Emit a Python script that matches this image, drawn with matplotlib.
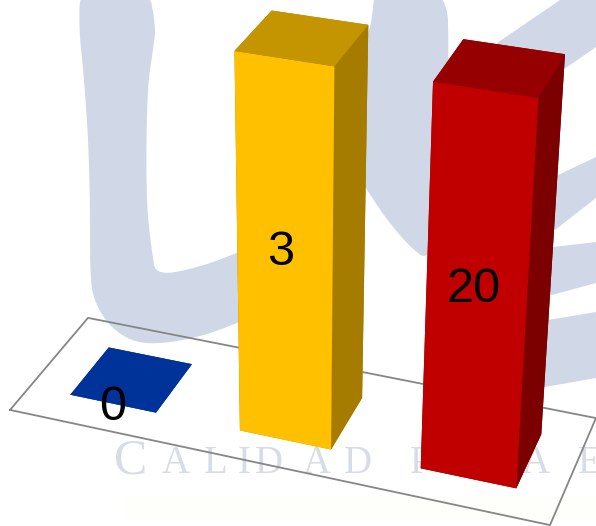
import numpy as np
import matplotlib
matplotlib.use('Agg')
import matplotlib.pyplot as plt
from matplotlib.patches import Polygon, Rectangle

# --- chart data ---
value_labels = ['0', '3', '20']
bar_heights = [0.0, 7.43, 7.43]      # drawn heights in the reference (not proportional to the labels)
bar_x = [0.8115, 4.1332, 7.495]
bar_y = [0.8169, 0.8098, 0.8081]
bar_w = [1.6982, 1.7159, 1.7088]
bar_d = [1.7033, 1.7216, 1.7123]
label_dx = [0.0, -0.07, -0.05]
label_dz = [-0.08, 0.10, 0.06]
front_colors = ['#003399', '#FFC000', '#C00000']
top_colors = ['#003399', '#C49500', '#960000']
side_colors = ['#003399', '#A67C00', '#7C0000']
floor_x, floor_y, box_z = 10.0, 3.3507, 10.0

# --- view ---
ELEV, AZIM, ROLL, ZOOM = 27.8833, -70.2187, -0.0854, float(np.exp(0.7077))
PX_A, PX_B, PX_S = 302.6319, 168.4104, 2218.2699
WIDTH, HEIGHT = 596, 526

fig = plt.figure(figsize=(WIDTH / 100, HEIGHT / 100), dpi=100, facecolor='white')


def chaikin(pts, rounds=3):
    p = np.asarray(pts, float)
    for _ in range(rounds):
        q = np.roll(p, -1, axis=0)
        p = np.column_stack([0.75 * p + 0.25 * q, 0.25 * p + 0.75 * q]).reshape(-1, 2)
    return p


# --- watermark background ---
bg = fig.add_axes([0, 0, 1, 1], zorder=0)
bg.set_xlim(0, WIDTH)
bg.set_ylim(HEIGHT, 0)
bg.axis('off')
WM = '#D0D8E8'
curved = [
    [(80, -15), (79, 30), (83, 67), (88, 133), (90, 200), (90, 280), (95, 303), (110, 327),
     (133, 342), (160, 344), (200, 337), (238, 323), (290, 300), (290, 230), (237, 253),
     (200, 267), (156, 276), (152, 253), (146, 200), (147, 90), (153, 50), (156, 27), (148, -15)],
    [(375, -15), (372, 20), (366, 40), (360, 100), (358, 175), (367, 190), (387, 220), (410, 247),
     (430, 262), (445, 200), (449, 60), (447, -15)],
]
straight = [
    [(497, 43), (560, 0), (596, 0), (596, 47), (560, 72), (520, 80)],
    [(545, 178), (558, 175), (596, 157), (596, 198), (555, 230), (545, 234)],
    [(540, 248), (553, 247), (596, 242), (596, 283), (552, 295), (540, 297)],
    [(535, 321), (548, 320), (596, 312), (596, 378), (545, 387), (535, 388)],
]
bg.add_patch(Rectangle((125, 497), 471, 23, fc='#FEFEFA', ec='none'))
for pts in curved:
    bg.add_patch(Polygon(chaikin(pts), closed=True, fc=WM, ec='none'))
for pts in straight:
    bg.add_patch(Polygon(pts, closed=True, fc=WM, ec='none'))

wm_letters = ['C', 'A', 'L', 'I', 'D', 'A', 'D', 'P', 'A', 'E']
wm_x = [114, 162, 204, 238, 255, 303, 344, 410, 522, 578]
wm_size = [36, 28, 28, 28, 28, 28, 28, 28, 28, 28]
for ch, x, sz in zip(wm_letters, wm_x, wm_size):
    bg.text(x, 473, ch, family='Liberation Serif', fontsize=sz, color='#D8DCE4',
            ha='left', va='baseline')

# --- 3D chart ---
L = PX_A - PX_S * 0.095
W = PX_S * 0.185
B = HEIGHT - PX_B - PX_S * 0.095
ax = fig.add_axes([L / WIDTH, B / HEIGHT, W / WIDTH, W / HEIGHT],
                  projection='3d', zorder=1)
ax.set_proj_type('persp')
ax.patch.set_alpha(0)
ax.computed_zorder = False
ax.view_init(ELEV, AZIM, ROLL)

fx = [0, floor_x, floor_x, 0, 0]
fy = [0, 0, floor_y, floor_y, 0]
floor_line, = ax.plot(fx, fy, [0] * 5, color='#868686', lw=1.3, zorder=1)
floor_line.set_clip_on(False)

for i in range(len(value_labels)):
    # face order used by bar3d: bottom, top, front, back, left, right
    faces = [top_colors[i], top_colors[i], front_colors[i],
             side_colors[i], side_colors[i], side_colors[i]]
    col = ax.bar3d(bar_x[i], bar_y[i], 0, bar_w[i], bar_d[i], bar_heights[i],
                   color=faces, shade=False, linewidth=0, zorder=2 + i)
    col.set_clip_on(False)
    ax.text(bar_x[i] + bar_w[i] / 2 + label_dx[i], bar_y[i],
            bar_heights[i] / 2 + label_dz[i], value_labels[i],
            family='Liberation Sans', fontsize=35, color='black',
            ha='center', va='center', zorder=10)

ax.set_xlim(0, floor_x)
ax.set_ylim(0, floor_y)
ax.set_zlim(0, box_z)
ax.set_box_aspect((floor_x, floor_y, box_z), zoom=ZOOM)
ax.set_axis_off()

fig.savefig('out.png', dpi=100)
